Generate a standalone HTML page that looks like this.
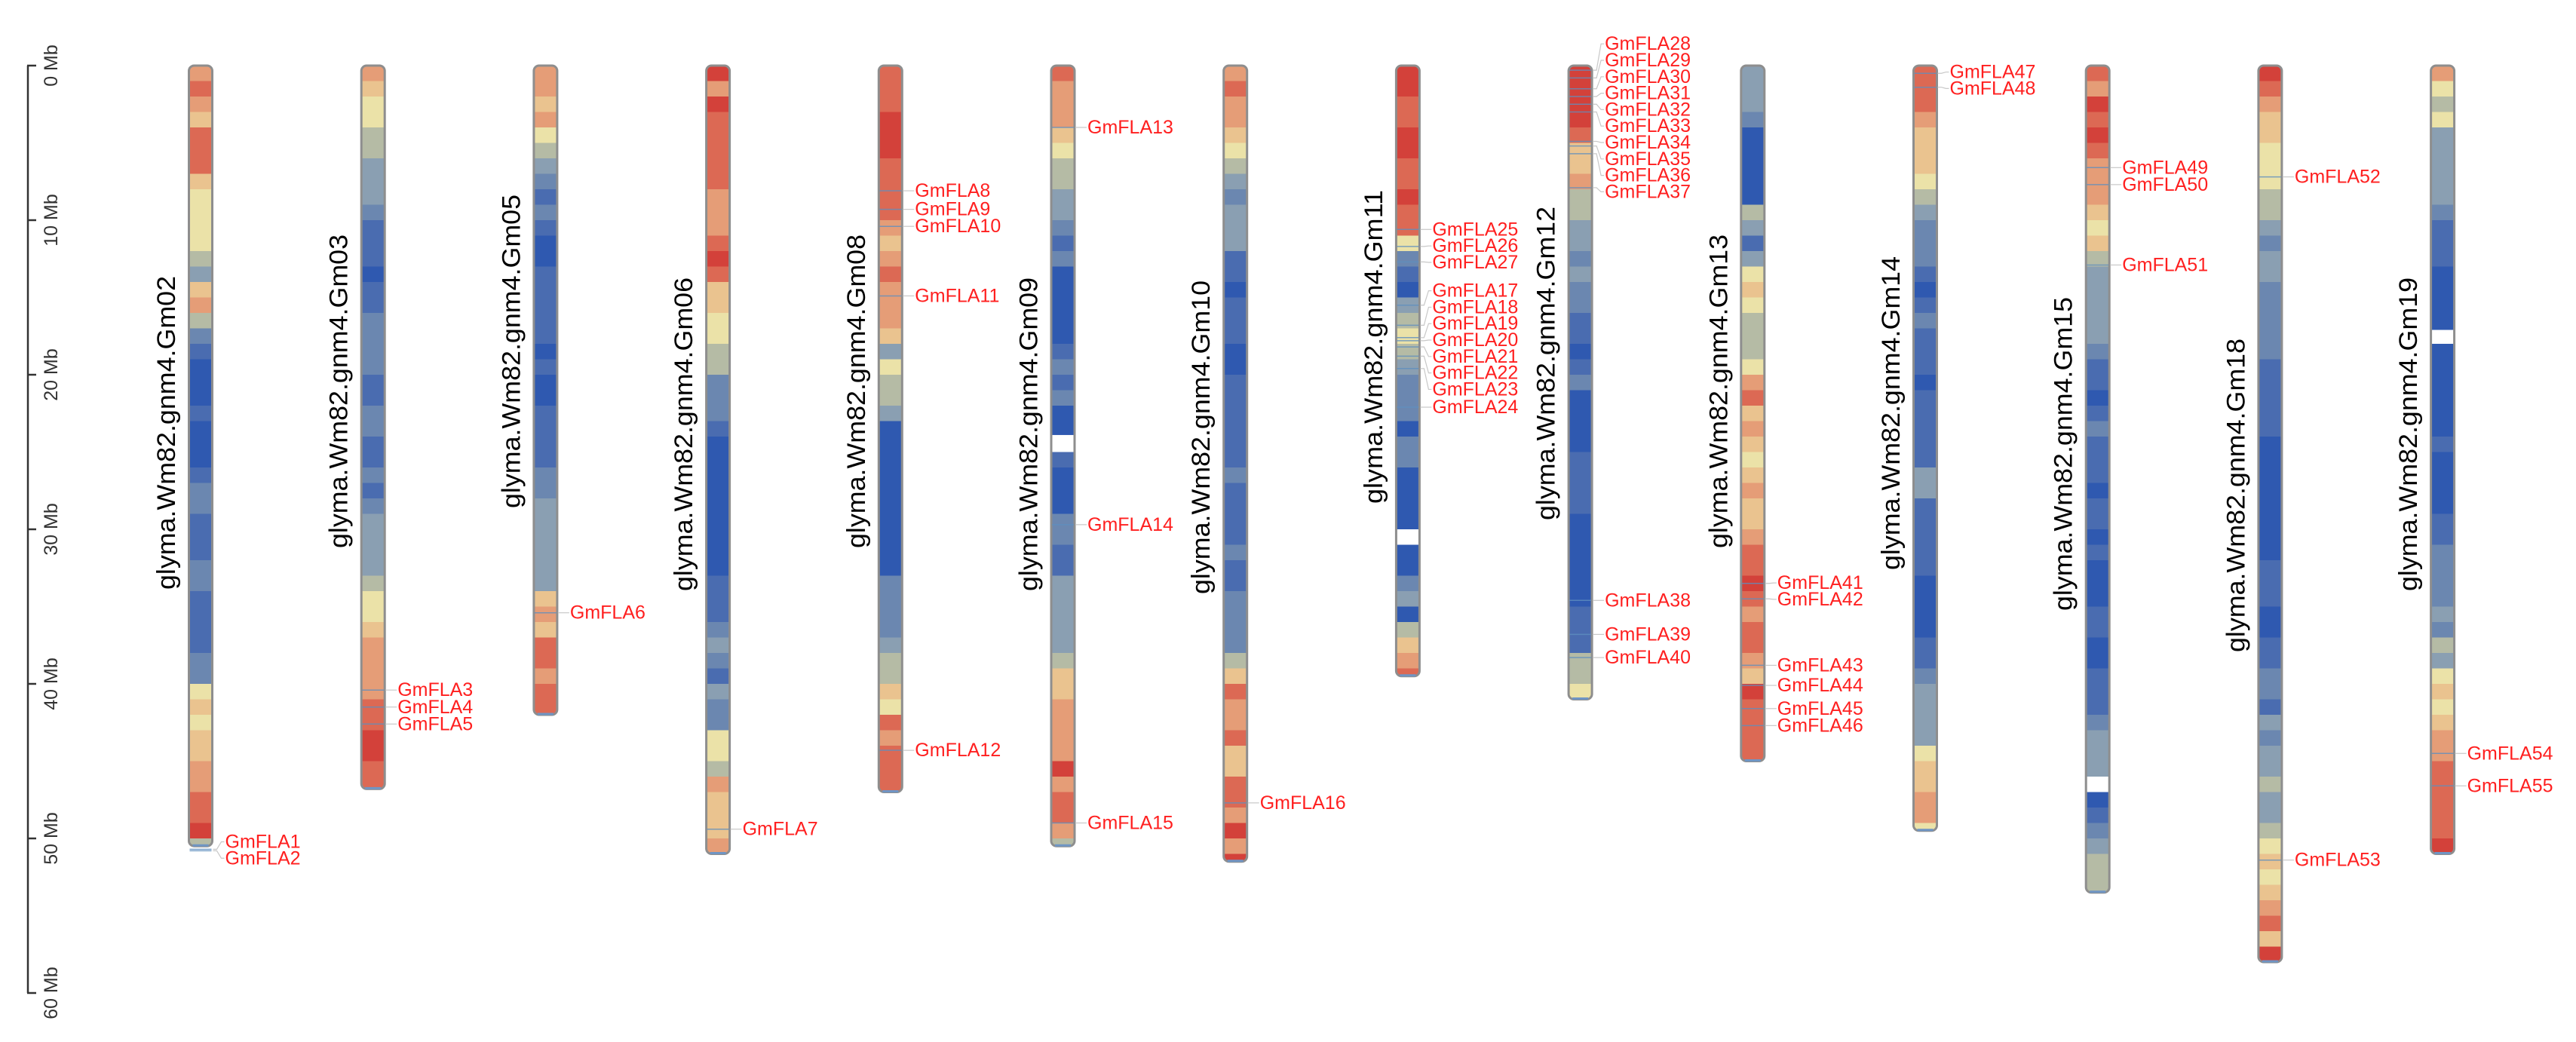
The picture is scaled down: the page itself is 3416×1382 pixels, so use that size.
<!DOCTYPE html>
<html><head><meta charset="utf-8"><style>
html,body{margin:0;padding:0;background:#fff}
svg{display:block}
text{font-family:"Liberation Sans",Arial,sans-serif}
</style></head><body>
<svg id="chart" width="3416" height="1382" viewBox="0 0 3416 1382" xmlns="http://www.w3.org/2000/svg">
<g id="axis"></g>
<g id="chroms"></g>
</svg>
<script>
const chromNames=["Gm02","Gm03","Gm05","Gm06","Gm08","Gm09","Gm10","Gm11","Gm12","Gm13","Gm14","Gm15","Gm18","Gm19"];
const chromLengths=[50.5,46.8,42,51,47,50.5,51.5,39.5,41,45,49.5,53.5,58,51];
const densities=[
"787688865555436742100010001221112211112256566778894",
"76554433321110112222112211212333345567777889988",
"776754321210011111010011112233333367688788898",
"979888887778986655442221000000000111232132255476667",
"888999888876787776354430000000000222234465878888",
"877765443321200000121200010002211333334667777978874",
"787765432333110111001111112111121122224687786688797959",
"998899889885210345432220220000000230467885",
"99998667443323221101200001111000000111445776777",
"333200000431356544457867656766788987887698888",
"88876665432221012111011111331111100001123333566775",
"87989877765643333321101211101101000110011123332012344444",
"98766555443233222221111100000000111001122132334334565678698",
"754533333211100000000000100001122223243565677888889888"
];
const gaps=[null,null,null,null,null,[23.9,25],null,[30,31],null,null,null,[46,47],null,[17.1,18]];
const geneNames=[
["GmFLA1","GmFLA2"],["GmFLA3","GmFLA4","GmFLA5"],["GmFLA6"],["GmFLA7"],
["GmFLA8","GmFLA9","GmFLA10","GmFLA11","GmFLA12"],["GmFLA13","GmFLA14","GmFLA15"],["GmFLA16"],
["GmFLA25","GmFLA26","GmFLA27","GmFLA17","GmFLA18","GmFLA19","GmFLA20","GmFLA21","GmFLA22","GmFLA23","GmFLA24"],
["GmFLA28","GmFLA29","GmFLA30","GmFLA31","GmFLA32","GmFLA33","GmFLA34","GmFLA35","GmFLA36","GmFLA37","GmFLA38","GmFLA39","GmFLA40"],
["GmFLA41","GmFLA42","GmFLA43","GmFLA44","GmFLA45","GmFLA46"],["GmFLA47","GmFLA48"],
["GmFLA49","GmFLA50","GmFLA51"],["GmFLA52","GmFLA53"],["GmFLA54","GmFLA55"]];
const genePositions=[
[50.7,50.8],[40.4,41.5,42.6],[35.4],[49.4],
[8.1,9.3,10.4,14.9,44.3],[4.0,29.7,49.0],[47.7],
[10.6,11.7,12.7,15.5,16.8,17.6,17.8,18.2,18.8,19.6,22.1],
[0.3,0.8,1.5,2.0,2.5,3.0,4.9,5.2,5.7,7.9,34.6,36.8,38.3],
[33.5,34.5,38.8,40.1,41.6,42.7],[0.5,1.4],[6.6,7.7,12.9],[7.2,51.4],[44.5,46.6]];
const tickValues=[0,10,20,30,40,50,60];
const tickLabels=["0 Mb","10 Mb","20 Mb","30 Mb","40 Mb","50 Mb","60 Mb"];

// layout (not data)
const Y0=87, PX_PER_MB=20.5, X0=266, DX=228.7, CW=33;
const labelCenterY=[574,519,466,576,519,576,580,460,482,519,548,602,657,576];
const ramp=["#2f59b0","#4a6cb0","#6b87b0","#8a9fb2","#b5bba5","#ebe2a8","#eac38f","#e59d77","#dc6954","#d3413a"];
const NS="http://www.w3.org/2000/svg";
function y(mb){return Y0+mb*PX_PER_MB;}
function cx(i){return X0+i*DX;}
function mk(tag,attrs,parent){const e=document.createElementNS(NS,tag);for(const k in attrs)e.setAttribute(k,attrs[k]);parent.appendChild(e);return e;}

const ax=document.getElementById('axis');
const axl=mk('line',{x1:37,x2:37,y1:y(0),y2:y(60),stroke:'#333','stroke-width':2.5},ax);


tickValues.forEach((v,k)=>{
  const t=mk('line',{x1:36,x2:48,y1:y(v),y2:y(v),stroke:'#333','stroke-width':2.5},ax);
  
  
  const tx=mk('text',{x:0,y:0,'font-size':25,fill:'#333','text-anchor':'middle','dominant-baseline':'central',transform:`translate(68,${y(v)}) rotate(-90)`},ax);
  tx.textContent=tickLabels[k];
  
  
});

const root=document.getElementById('chroms');
chromNames.forEach((nm,i)=>{
  const g=mk('g',{},root);
  
  
  const c=cx(i), left=c-CW/2, top=y(0), bot=y(chromLengths[i]);
  const clipId='clip'+i;
  const cp=mk('clipPath',{id:clipId},g);
  mk('rect',{x:left,y:top,width:CW,height:bot-top,rx:7,ry:7},cp);
  const bands=mk('g',{'clip-path':`url(#${clipId})`},g);
  const d=densities[i];
  const n=Math.ceil(chromLengths[i]);
  for(let b=0;b<n;b++){
    const v=+d[Math.min(b,d.length-1)];
    const r=mk('rect',{x:left,y:y(b),width:CW,height:Math.min(y(b+1),bot)-y(b)+0.5,fill:ramp[v]},bands);
    
    
  }
  if(gaps[i]){
    const gp=mk('rect',{x:left,y:y(gaps[i][0]),width:CW,height:y(gaps[i][1])-y(gaps[i][0]),fill:'#fff'},bands);
    
    
  }
  mk('rect',{x:left+1,y:top,width:CW-2,height:bot-top,rx:7,ry:7,fill:'none',stroke:'#8e8e8e','stroke-width':3},g);
  mk('line',{x1:left+6,x2:left+CW-6,y1:bot-1,y2:bot-1,stroke:'#6f95c4','stroke-width':3},g);
  const lab=mk('text',{x:0,y:0,'font-size':34,fill:'#000','text-anchor':'middle','dominant-baseline':'central',textLength:416,lengthAdjust:'spacingAndGlyphs',transform:`translate(${c-45},${labelCenterY[i]}) rotate(-90)`},g);
  lab.textContent='glyma.Wm82.gnm4.'+nm;
  
  

  const gys=genePositions[i].map(y);
  const order=gys.map((v,k)=>k).sort((a,b)=>gys[a]-gys[b]);
  const SP=21.8;
  let clusters=order.map(k=>({m:[k],c:gys[k]}));
  let changed=true;
  while(changed){changed=false;
    for(let k=0;k<clusters.length-1;k++){
      const A=clusters[k],B=clusters[k+1];
      const aEnd=A.c+(A.m.length-1)*SP/2, bStart=B.c-(B.m.length-1)*SP/2;
      if(bStart-aEnd<SP){
        const m=A.m.concat(B.m);
        const c0=m.reduce((s,q)=>s+gys[q],0)/m.length;
        clusters.splice(k,2,{m:m,c:c0});changed=true;break;}
    }}
  const ly=[];
  clusters.forEach(C=>{C.m.forEach((q,j)=>{ly[q]=C.c+(j-(C.m.length-1)/2)*SP;});});
  const right=left+CW;
  genePositions[i].forEach((p,k)=>{
    const gy=gys[k];
    const mark=mk('line',{x1:left+2,x2:right-2,y1:gy,y2:gy,stroke:'#5f8fbf','stroke-width':1.5,opacity:0.8},g);
    
    
    const con=mk('polyline',{points:`${right},${gy} ${right+5},${gy} ${right+11},${ly[k]} ${right+15},${ly[k]}`,fill:'none',stroke:'#c8c8c8','stroke-width':1.2},g);
    
    
    const t=mk('text',{x:right+16,y:ly[k],'font-size':25,fill:'#ff1f1f','dominant-baseline':'central'},g);
    t.textContent=geneNames[i][k];
    
    
  });
});
</script>
</body></html>
